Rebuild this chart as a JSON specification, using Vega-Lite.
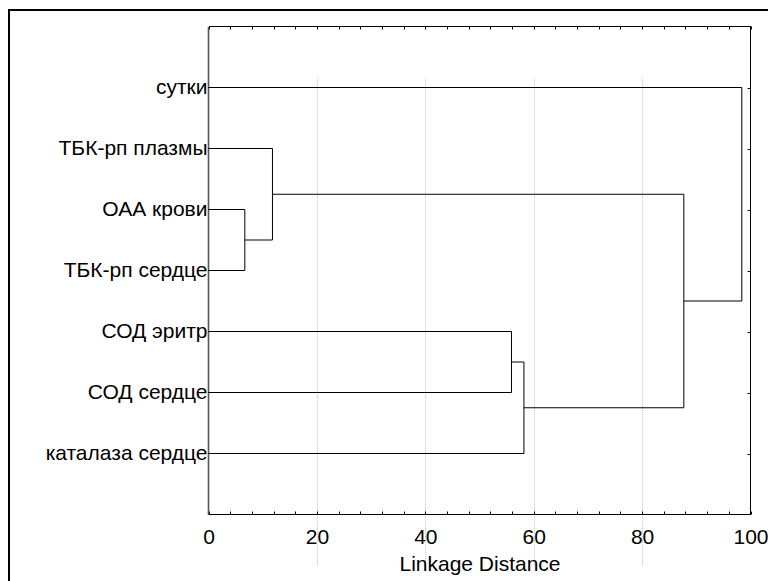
{
  "$schema": "https://vega.github.io/schema/vega-lite/v6.json",
  "autosize": "none",
  "padding": {"left": 9, "top": 10, "right": 0, "bottom": 0},
  "width": 759,
  "height": 571,
  "config": {
    "font": "Liberation Sans",
    "view": {"stroke": "black", "strokeWidth": 2, "strokeDash": [759, 1330, 571, 0], "strokeCap": "square"},
    "axis": {
      "labelFont": "Liberation Sans",
      "labelFontSize": 21,
      "labelColor": "black",
      "titleFont": "Liberation Sans",
      "titleFontSize": 21,
      "titleFontWeight": "normal",
      "titleColor": "black",
      "domainColor": "black",
      "tickColor": "black",
      "grid": false
    }
  },
  "data": {
    "values": [
      {"d1": 0, "d2": 98.4, "p1": 1, "p2": 1},
      {"d1": 0, "d2": 11.8, "p1": 2, "p2": 2},
      {"d1": 0, "d2": 6.7, "p1": 3, "p2": 3},
      {"d1": 0, "d2": 6.7, "p1": 4, "p2": 4},
      {"d1": 0, "d2": 55.9, "p1": 5, "p2": 5},
      {"d1": 0, "d2": 55.9, "p1": 6, "p2": 6},
      {"d1": 0, "d2": 58.2, "p1": 7, "p2": 7},
      {"d1": 6.7, "d2": 6.7, "p1": 3, "p2": 4},
      {"d1": 11.8, "d2": 11.8, "p1": 2, "p2": 3.5},
      {"d1": 55.9, "d2": 55.9, "p1": 5, "p2": 6},
      {"d1": 58.2, "d2": 58.2, "p1": 5.5, "p2": 7},
      {"d1": 87.7, "d2": 87.7, "p1": 2.75, "p2": 6.25},
      {"d1": 98.4, "d2": 98.4, "p1": 1, "p2": 4.5},
      {"d1": 6.7, "d2": 11.8, "p1": 3.5, "p2": 3.5},
      {"d1": 11.8, "d2": 87.7, "p1": 2.75, "p2": 2.75},
      {"d1": 55.9, "d2": 58.2, "p1": 5.5, "p2": 5.5},
      {"d1": 58.2, "d2": 87.7, "p1": 6.25, "p2": 6.25},
      {"d1": 87.7, "d2": 98.4, "p1": 4.5, "p2": 4.5}
    ]
  },
  "resolve": {"axis": {"x": "independent", "y": "independent"}},
  "layer": [
    {
      "mark": {"type": "rule", "color": "#bdbdbd", "opacity": 0},
      "encoding": {
        "x": {
          "field": "d1", "type": "quantitative",
          "scale": {"domain": [0, 100], "range": [199.5, 741.5], "nice": false, "zero": false},
          "axis": {
            "orient": "bottom", "offset": -67, "values": [20, 40, 60, 80],
            "grid": true, "gridColor": "#c8c8c8", "gridDash": [1, 1], "gridWidth": 1,
            "domain": false, "ticks": false, "labels": false, "title": null
          }
        },
        "x2": {"field": "d2"},
        "y": {
          "field": "p1", "type": "quantitative",
          "scale": {"domain": [0, 8], "range": [16.5, 504.5], "nice": false, "zero": false},
          "axis": null
        },
        "y2": {"field": "p2"}
      }
    },
    {
      "mark": {"type": "rule", "opacity": 0},
      "encoding": {
        "x": {
          "field": "d1", "type": "quantitative",
          "axis": {
            "orient": "top", "offset": -16,
            "values": [0, 4, 8, 12, 16, 20, 24, 28, 32, 36, 40, 44, 48, 52, 56, 60, 64, 68, 72, 76, 80, 84, 88, 92, 96, 100],
            "tickSize": -3, "labels": false, "title": null, "domain": true
          }
        },
        "x2": {"field": "d2"},
        "y": {
          "field": "p1", "type": "quantitative",
          "axis": {
            "orient": "right", "offset": -18, "values": [1, 2, 3, 4, 5, 6, 7],
            "tickSize": -3, "labels": false, "title": null, "domain": true
          }
        },
        "y2": {"field": "p2"}
      }
    },
    {
      "mark": {"type": "rule", "color": "black", "strokeWidth": 1},
      "encoding": {
        "x": {
          "field": "d1", "type": "quantitative",
          "axis": {
            "orient": "bottom", "offset": -67,
            "values": [0, 4, 8, 12, 16, 20, 24, 28, 32, 36, 40, 44, 48, 52, 56, 60, 64, 68, 72, 76, 80, 84, 88, 92, 96, 100],
            "labelExpr": "datum.value % 20 === 0 ? datum.label : ''",
            "tickSize": -3, "labelPadding": 15, "labelFlush": false, "labelOverlap": false, "labelBound": false,
            "title": "Linkage Distance", "titlePadding": 6, "domain": true
          }
        },
        "x2": {"field": "d2"},
        "y": {
          "field": "p1", "type": "quantitative",
          "axis": {
            "orient": "left", "offset": -199, "values": [1, 2, 3, 4, 5, 6, 7],
            "labelExpr": "['', 'сутки', 'ТБК-рп плазмы', 'ОАА крови\u00a0', 'ТБК-рп сердце', 'СОД эритр', 'СОД сердце', 'каталаза сердце'][datum.value]",
            "ticks": false, "labelPadding": 1, "labelOverlap": false, "labelBound": false, "labelFlush": false,
            "domainColor": "#555555", "domainWidth": 1.6,
            "title": null, "domain": true
          }
        },
        "y2": {"field": "p2"}
      }
    }
  ]
}
